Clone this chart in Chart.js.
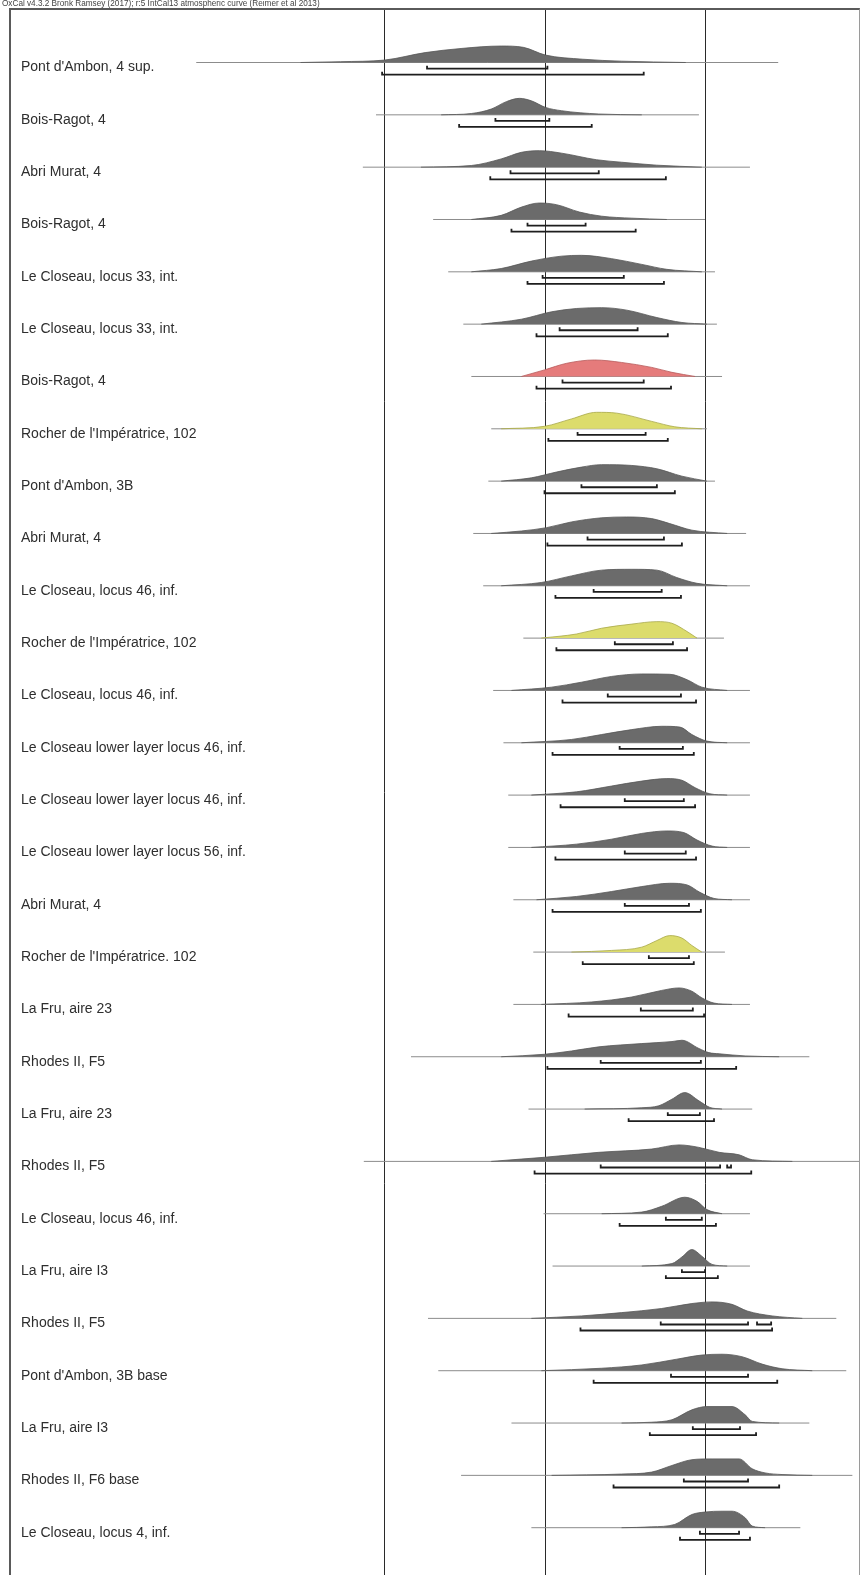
<!DOCTYPE html>
<html>
<head>
<meta charset="utf-8">
<script src="https://cdn.jsdelivr.net/npm/chart.js@4.4.1/dist/chart.umd.min.js"></script>
<style>
  html, body { margin: 0; padding: 0; background: #fff; }
  #wrap { position: relative; width: 861px; height: 1575px; overflow: hidden; }
  canvas { position: absolute; left: 0; top: 0; }
  #frame { position: absolute; left: 9px; top: 8px; width: 851px; height: 1600px; box-sizing: border-box;
           border-left: 2px solid #5a5a5a; border-top: 2px solid #5a5a5a; border-right: 1px solid #9a9a9a; }
  #hdr { position: absolute; left: 2px; top: 0; font: 8.2px "Liberation Sans", Arial, sans-serif; color: #444;
         white-space: nowrap; line-height: 8px; }
</style>
</head>
<body>
<div id="wrap">
  <canvas id="c" width="861" height="1575"></canvas>
  <div id="frame"></div>
  <div id="hdr">OxCal v4.3.2 Bronk Ramsey (2017); r:5 IntCal13 atmospheric curve (Reimer et al 2013)</div>
</div>
<script>
// Calibrated dates (cal BP), one row per sample, top to bottom.
const siteLabels = [
  "Pont d'Ambon, 4 sup.",
  "Bois-Ragot, 4",
  "Abri Murat, 4",
  "Bois-Ragot, 4",
  "Le Closeau, locus 33, int.",
  "Le Closeau, locus 33, int.",
  "Bois-Ragot, 4",
  "Rocher de l'Impératrice, 102",
  "Pont d'Ambon, 3B",
  "Abri Murat, 4",
  "Le Closeau, locus 46, inf.",
  "Rocher de l'Impératrice, 102",
  "Le Closeau, locus 46, inf.",
  "Le Closeau lower layer locus 46, inf.",
  "Le Closeau lower layer locus 46, inf.",
  "Le Closeau lower layer locus 56, inf.",
  "Abri Murat, 4",
  "Rocher de l'Impératrice. 102",
  "La Fru, aire 23",
  "Rhodes II, F5",
  "La Fru, aire 23",
  "Rhodes II, F5",
  "Le Closeau, locus 46, inf.",
  "La Fru, aire I3",
  "Rhodes II, F5",
  "Pont d'Ambon, 3B base",
  "La Fru, aire I3",
  "Rhodes II, F6 base",
  "Le Closeau, locus 4, inf."
];

// Highlight class of each row: 0 grey, 1 red, 2 yellow
const rowHighlight = [0,0,0,0,0,0,1,2,0,0,0,2,0,0,0,0,0,2,0,0,0,0,0,0,0,0,0,0,0];

// Extent of the thin line under each distribution [from, to] cal BP
const baselines = [
  [14588,12775],[14028,13022],[14069,12863],[13850,13003],[13803,12972],
  [13756,12966],[13731,12950],[13669,12997],[13678,12972],[13725,12875],
  [13694,12863],[13569,12944],[13663,12863],[13631,12863],[13616,12863],
  [13616,12863],[13600,12863],[13538,12941],[13600,12863],[13919,12678],
  [13553,12856],[14066,12522],[13506,12863],[13478,12863],[13866,12594],
  [13834,12563],[13606,12678],[13763,12544],[13544,12706]
];

// Posterior distributions: [cal BP, relative probability]
const densities = [
  [[14263,0],[14138,0.05],[14000,0.15],[13875,0.6],[13763,0.85],[13638,1],[13569,0.92],[13500,0.45],[13384,0.2],[13263,0.08],[13063,0]],
  [[13825,0],[13731,0.08],[13669,0.35],[13622,0.8],[13581,1],[13544,0.85],[13500,0.45],[13450,0.25],[13334,0.05],[13200,0]],
  [[13888,0],[13731,0.1],[13638,0.5],[13575,0.9],[13519,1],[13450,0.85],[13341,0.45],[13263,0.3],[13153,0.12],[13013,0]],
  [[13731,0],[13638,0.25],[13575,0.75],[13519,1],[13466,0.9],[13394,0.45],[13325,0.2],[13231,0.08],[13122,0]],
  [[13731,0],[13638,0.2],[13544,0.65],[13450,0.95],[13388,1],[13294,0.8],[13200,0.45],[13122,0.15],[13013,0]],
  [[13700,0],[13575,0.3],[13481,0.75],[13403,0.95],[13325,1],[13247,0.85],[13153,0.4],[13075,0.1],[12997,0]],
  [[13575,0],[13503,0.4],[13434,0.8],[13347,1],[13263,0.85],[13169,0.55],[13106,0.25],[13034,0]],
  [[13638,0],[13503,0.15],[13419,0.6],[13341,1],[13278,0.95],[13169,0.45],[13097,0.12],[13013,0]],
  [[13638,0],[13544,0.2],[13466,0.55],[13388,0.85],[13325,1],[13231,0.95],[13153,0.75],[13075,0.3],[12997,0]],
  [[13669,0],[13575,0.15],[13497,0.35],[13419,0.7],[13325,0.95],[13247,1],[13169,0.9],[13113,0.6],[13044,0.2],[12934,0]],
  [[13638,0],[13513,0.2],[13419,0.6],[13325,0.95],[13231,1],[13153,0.95],[13091,0.5],[13028,0.15],[12934,0]],
  [[13513,0],[13403,0.25],[13325,0.6],[13231,0.85],[13153,1],[13106,0.9],[13059,0.4],[13028,0]],
  [[13606,0],[13481,0.2],[13388,0.5],[13294,0.85],[13200,1],[13113,0.98],[13059,0.65],[13013,0.2],[12934,0]],
  [[13575,0],[13419,0.2],[13325,0.5],[13231,0.8],[13138,1],[13081,0.95],[13044,0.5],[12997,0.1],[12934,0]],
  [[13544,0],[13403,0.2],[13294,0.55],[13200,0.85],[13122,1],[13075,0.9],[13034,0.45],[12988,0.08],[12934,0]],
  [[13544,0],[13403,0.2],[13294,0.5],[13200,0.85],[13122,1],[13069,0.9],[13028,0.45],[12981,0.08],[12934,0]],
  [[13528,0],[13403,0.2],[13294,0.5],[13200,0.8],[13113,1],[13059,0.9],[13019,0.45],[12975,0.08],[12919,0]],
  [[13419,0],[13294,0.1],[13200,0.3],[13153,0.7],[13113,1],[13075,0.85],[13044,0.4],[13013,0]],
  [[13513,0],[13356,0.15],[13231,0.45],[13138,0.85],[13084,1],[13044,0.8],[13013,0.4],[12975,0.08],[12919,0]],
  [[13638,0],[13503,0.15],[13419,0.35],[13334,0.6],[13200,0.8],[13106,0.92],[13075,1],[13022,0.5],[12991,0.25],[12959,0.18],[12878,0.05],[12772,0]],
  [[13378,0],[13200,0.08],[13147,0.2],[13106,0.6],[13066,1],[13022,0.5],[12988,0.1],[12950,0]],
  [[13669,0],[13503,0.25],[13334,0.55],[13169,0.75],[13084,1],[13022,0.85],[12959,0.55],[12897,0.4],[12856,0.1],[12731,0]],
  [[13325,0],[13200,0.1],[13138,0.45],[13066,1],[13028,0.75],[12997,0.25],[12950,0]],
  [[13200,0],[13106,0.15],[13075,0.55],[13044,1],[13013,0.6],[12981,0.1],[12934,0]],
  [[13544,0],[13388,0.15],[13263,0.35],[13138,0.6],[13044,0.9],[12981,1],[12919,0.85],[12872,0.45],[12794,0.15],[12700,0]],
  [[13513,0],[13325,0.15],[13200,0.35],[13091,0.7],[13013,0.95],[12950,1],[12888,0.85],[12825,0.4],[12763,0.12],[12669,0]],
  [[13263,0],[13169,0.05],[13106,0.2],[13044,0.8],[12997,1],[12919,1],[12878,0.5],[12856,0.1],[12772,0]],
  [[13481,0],[13263,0.08],[13169,0.2],[13106,0.6],[13044,0.95],[12981,1],[12897,1],[12856,0.4],[12816,0.15],[12763,0.05],[12669,0]],
  [[13263,0],[13169,0.05],[13097,0.2],[13044,0.8],[13003,0.95],[12950,1],[12919,1],[12878,0.6],[12856,0.1],[12816,0]]
];

// 68.2% probability ranges (cal BP)
const range68 = [
  [[13869,13494]],[[13656,13488]],[[13609,13334]],[[13556,13375]],[[13509,13256]],
  [[13456,13213]],[[13447,13194]],[[13400,13188]],[[13388,13153]],[[13369,13131]],
  [[13350,13138]],[[13284,13103]],[[13306,13078]],[[13269,13072]],[[13253,13069]],
  [[13253,13063]],[[13253,13053]],[[13178,13053]],[[13203,13041]],[[13328,13016]],
  [[13119,13019]],[[13328,12956],[12934,12922]],[[13125,13013]],[[13075,13003]],[[13141,12869],[12841,12797]],
  [[13109,12869]],[[13041,12894]],[[13069,12869]],[[13019,12897]]
];

// 95.4% probability ranges (cal BP)
const range95 = [
  [[14009,13194]],[[13769,13356]],[[13672,13125]],[[13606,13219]],[[13556,13131]],
  [[13528,13119]],[[13528,13109]],[[13491,13119]],[[13503,13097]],[[13494,13075]],
  [[13469,13078]],[[13466,13059]],[[13447,13031]],[[13478,13038]],[[13453,13034]],
  [[13469,13031]],[[13478,13016]],[[13384,13038]],[[13428,13006]],[[13494,12906]],
  [[13241,12975]],[[13534,12859]],[[13269,12969]],[[13125,12963]],[[13391,12794]],
  [[13350,12778]],[[13175,12844]],[[13288,12772]],[[13081,12863]]
];

// Reference lines (cal BP)
const markerYears = [14000, 13500, 13000];

// Row geometry, in row units
const PEAK = 0.315;    // height of a distribution's maximum
const GAP68 = 0.117;   // offset of the 68.2% bar below the baseline
const GAP95 = 0.232;   // offset of the 95.4% bar
const TICK = 0.057;    // end-tick height of the range bars

const fillColours = ['#6b6b6b', '#e57b7b', '#dcdc6c'];
const edgeColours = ['#575757', '#b85a5a', '#a8a84a'];

function rangeBar(ranges, y) {
  const pts = [];
  ranges.forEach(([a, b], k) => {
    if (k) pts.push({ x: (ranges[k - 1][1] + a) / 2, y: null });
    pts.push({ x: a, y: y - TICK }, { x: a, y: y }, { x: b, y: y }, { x: b, y: y - TICK });
  });
  return {
    data: pts, borderColor: '#1e1e1e', borderWidth: 1.8, pointRadius: 0,
    fill: false, tension: 0, spanGaps: false
  };
}

const datasets = [];
siteLabels.forEach((name, i) => {
  const k = rowHighlight[i];
  datasets.push(rangeBar(range68[i], i + GAP68));
  datasets.push(rangeBar(range95[i], i + GAP95));
  datasets.push({
    data: densities[i].map(([x, h]) => ({ x: x, y: i - h * PEAK })),
    borderColor: edgeColours[k], backgroundColor: fillColours[k], borderWidth: 0.8,
    fill: { value: i }, cubicInterpolationMode: 'monotone', pointRadius: 0
  });
  datasets.push({
    data: [{ x: baselines[i][0], y: i }, { x: baselines[i][1], y: i }],
    borderColor: '#8c8c8c', borderWidth: 1, pointRadius: 0, fill: false
  });
});

new Chart(document.getElementById('c'), {
  type: 'line',
  data: { datasets: datasets },
  options: {
    responsive: false,
    devicePixelRatio: 1,
    animation: false,
    events: [],
    layout: { padding: { left: 11, right: 1, top: 10, bottom: 0 } },
    plugins: { legend: { display: false }, tooltip: { enabled: false } },
    scales: {
      x: {
        type: 'linear', reverse: true, min: 12520.2, max: 15165.1, position: 'bottom', z: 1,
        afterBuildTicks: s => { s.ticks = markerYears.map(v => ({ value: v })); },
        afterFit: s => { s.height = 0; },
        grid: { color: '#2a2a2a', lineWidth: 1, drawTicks: false },
        border: { display: false },
        ticks: { display: false }
      },
      y: {
        type: 'linear', reverse: true, min: -1.0033, max: 28.904, position: 'left',
        afterBuildTicks: s => { s.ticks = siteLabels.map((_, i) => ({ value: i })); },
        afterFit: s => { s.width = 0; s.paddingTop = 0; s.paddingBottom = 0; },
        grid: { display: false, drawTicks: false },
        border: { display: false },
        ticks: {
          mirror: true, padding: 10, labelOffset: 5, autoSkip: false,
          color: '#2e2e2e',
          font: { family: '"Liberation Sans", Arial, sans-serif', size: 14 },
          callback: v => siteLabels[v]
        }
      }
    }
  }
});
</script>
</body>
</html>
